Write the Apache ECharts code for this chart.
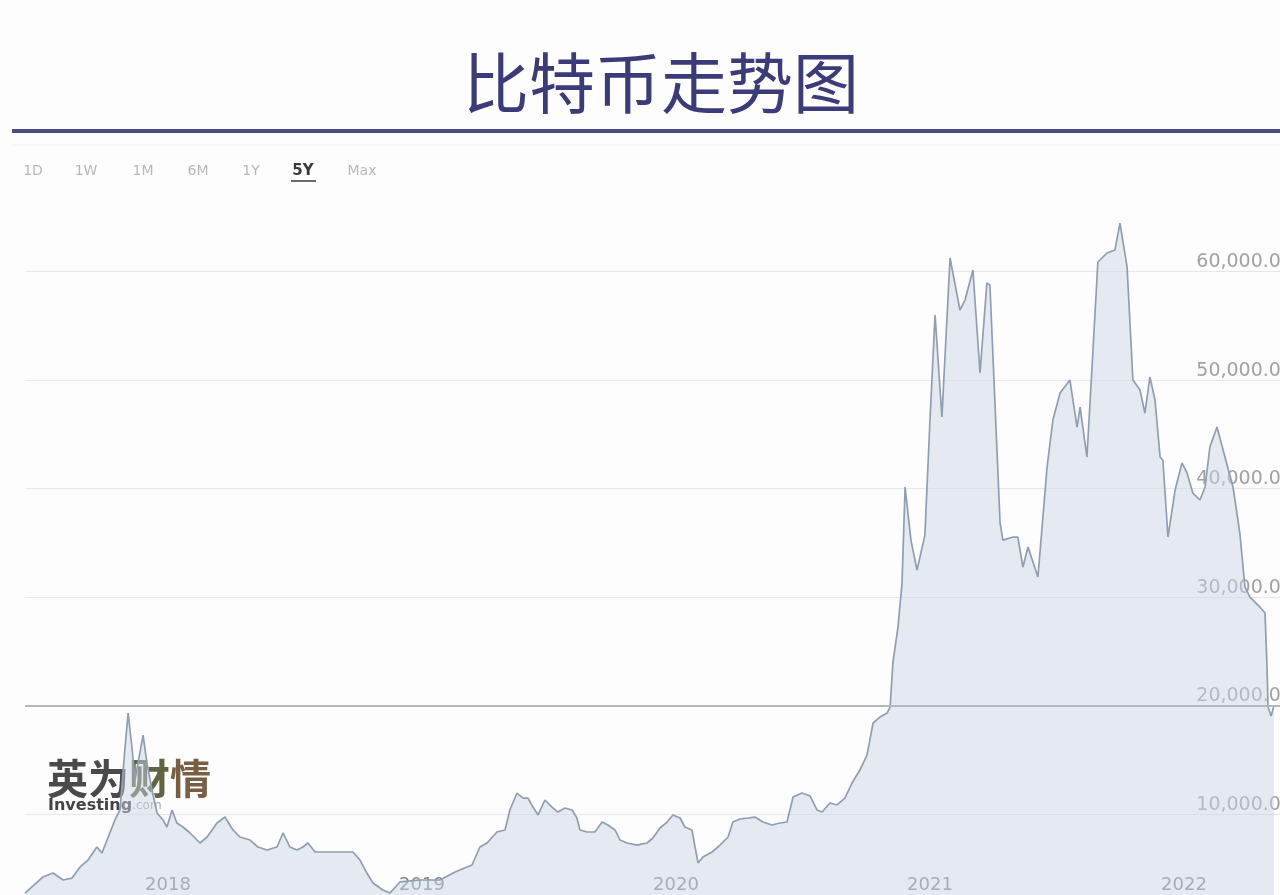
<!DOCTYPE html>
<html>
<head>
<meta charset="utf-8">
<script src="https://cdn.jsdelivr.net/npm/echarts@6/dist/echarts.min.js"></script>
<style>
html,body{margin:0;padding:0;background:#fdfdfd;}
#chart{width:1280px;height:895px;}
</style>
</head>
<body>
<div id="chart"></div>
<script>
// decimal years
const dates = [
2017.437,2017.508,2017.547,2017.587,2017.622,2017.654,2017.685,2017.720,2017.740,2017.760,
2017.791,2017.811,2017.831,2017.843,2017.858,2017.870,2017.882,2017.902,2017.917,2017.937,
2017.957,2017.980,2017.996,2018.016,2018.035,2018.059,2018.087,2018.126,2018.154,2018.193,
2018.224,2018.256,2018.283,2018.323,2018.354,2018.390,2018.429,2018.453,2018.480,2018.508,
2018.531,2018.551,2018.579,2018.610,2018.650,2018.728,2018.756,2018.783,2018.807,2018.846,
2018.874,2018.913,2018.992,2019.071,2019.130,2019.177,2019.197,2019.228,2019.256,2019.295,
2019.327,2019.346,2019.374,2019.398,2019.417,2019.437,2019.457,2019.484,2019.512,2019.535,
2019.563,2019.591,2019.610,2019.622,2019.650,2019.681,2019.709,2019.732,2019.760,2019.780,
2019.807,2019.846,2019.886,2019.909,2019.937,2019.965,2019.988,2020.016,2020.035,2020.063,
2020.075,2020.087,2020.106,2020.142,2020.173,2020.205,2020.224,2020.252,2020.283,2020.311,
2020.343,2020.378,2020.409,2020.437,2020.461,2020.496,2020.528,2020.555,2020.575,2020.606,
2020.634,2020.665,2020.693,2020.724,2020.752,2020.776,2020.803,2020.831,2020.843,2020.854,
2020.874,2020.890,2020.902,2020.925,2020.949,2020.980,2021.000,2021.020,2021.047,2021.079,
2021.118,2021.138,2021.169,2021.197,2021.224,2021.236,2021.276,2021.287,2021.327,2021.346,
2021.366,2021.386,2021.425,2021.461,2021.484,2021.512,2021.551,2021.579,2021.591,2021.618,
2021.638,2021.661,2021.697,2021.728,2021.748,2021.776,2021.799,2021.827,2021.846,2021.866,
2021.886,2021.906,2021.917,2021.937,2021.965,2021.992,2022.012,2022.035,2022.063,2022.083,
2022.102,2022.130,2022.154,2022.193,2022.220,2022.240,2022.260,2022.299,2022.319,2022.327,
2022.331,2022.343,2022.354
];
const prices = [
2760,4240,4600,3960,4140,5160,5800,7000,6450,7640,
9490,10410,16210,19340,16210,13170,14740,17310,14740,12250,
10130,9490,8840,10410,9210,8840,8290,7370,7920,9210,
9760,8570,7920,7640,7000,6720,7000,8290,7000,6720,
7000,7370,6540,6540,6540,6540,5800,4600,3680,3040,
2760,3780,3960,3960,4700,5160,5340,7000,7370,8380,
8570,10410,11970,11510,11510,10680,9950,11330,10680,10220,
10590,10410,9670,8570,8380,8380,9300,9030,8570,7640,
7370,7180,7370,7830,8750,9300,9950,9670,8840,8570,
7000,5530,6080,6540,7180,7920,9300,9580,9670,9760,
9300,9030,9210,9300,11600,11970,11700,10410,10220,11050,
10870,11510,12890,14090,15470,18420,18970,19340,19890,23950,
27260,31310,40160,35270,32510,35730,46330,56000,46600,61250,
56460,57380,60140,50660,58940,58760,36840,35270,35550,35550,
32790,34630,31870,42000,46330,48810,50010,45680,47520,42920,
51210,60880,61710,61980,64470,60420,50010,49090,46970,50290,
48170,42920,42640,35550,39880,42370,41450,39600,38960,40160,
43840,45680,43560,40160,35920,30950,30020,29100,28550,23580,
19890,19060,19990
];
const rangeButtons = ['1D','1W','1M','6M','1Y','5Y','Max'];
const activeRange = '5Y';
const yTicks = [0,10000,20000,30000,40000,50000,60000,70000];

const chart = echarts.init(document.getElementById('chart'));
const seriesData = dates.map((d, i) => [d, prices[i]]);

const btnX = [33, 86, 143, 198, 251, 303, 362];
const buttonGraphics = rangeButtons.map((b, i) => ({
  type: 'text',
  style: {
    x: btnX[i], y: 171, text: b, align: 'center', verticalAlign: 'middle',
    font: (b === activeRange ? 'bold 15px' : '14px') + ' "DejaVu Sans", sans-serif',
    fill: b === activeRange ? '#3a3a3a' : '#b8b8b8'
  }
}));

function fmt(v) {
  return v.toString().replace(/\B(?=(\d{3})+(?!\d))/g, ',') + '.00';
}

chart.setOption({
  backgroundColor: '#fdfdfd',
  animation: false,
  grid: { left: 25, right: -17, top: 163, bottom: -28, containLabel: false, outerBoundsMode: 'none' },
  xAxis: {
    type: 'value',
    min: dates[0],
    max: 2022.445,
    splitLine: { show: false },
    axisLine: { show: false },
    axisTick: { show: false },
    axisLabel: {
      inside: true, margin: 29, color: '#888888',
      fontFamily: 'DejaVu Sans', fontSize: 18,
      formatter: v => Math.abs(v - Math.round(v)) < 1e-6 ? String(Math.round(v)) : ''
    }
  },
  yAxis: {
    type: 'value',
    position: 'right',
    min: yTicks[0], max: yTicks[yTicks.length - 1], interval: 10000,
    axisLine: { show: false },
    axisTick: { show: false },
    splitLine: {
      lineStyle: {
        width: 1,
        color: ['#e8e8e8','#e8e8e8','#e8e8e8','#e8e8e8','#e8e8e8','#e8e8e8','#e8e8e8','rgba(0,0,0,0)']
      }
    },
    axisLabel: {
      inside: true, margin: 4, color: '#a2a2a2',
      fontFamily: 'DejaVu Sans', fontSize: 19, verticalAlign: 'bottom',
      formatter: v => (v === 0 || v === 70000) ? '' : fmt(v)
    }
  },
  series: [{
    type: 'line',
    data: seriesData,
    symbol: 'none',
    lineStyle: { color: '#909eb2', width: 1.7 },
    areaStyle: { color: 'rgb(200,212,230)', opacity: 0.48 },
    markLine: {
      silent: true, symbol: 'none', label: { show: false },
      lineStyle: { color: '#b4b8bd', width: 2, type: 'solid' },
      data: [{ yAxis: 20000 }]
    }
  }],
  graphic: [
    {
      type: 'text',
      style: {
        x: 661, y: 83, text: '比特币走势图', align: 'center', verticalAlign: 'middle',
        font: '66px "Noto Sans CJK SC", sans-serif', fill: '#3b3b7a'
      }
    },
    { type: 'line', shape: { x1: 12, y1: 131, x2: 1280, y2: 131 }, style: { stroke: '#4b4b83', lineWidth: 4 } },
    { type: 'line', shape: { x1: 12, y1: 145, x2: 1280, y2: 145 }, style: { stroke: '#f1f1f1', lineWidth: 1 } },
    ...buttonGraphics,
    { type: 'line', shape: { x1: 291, y1: 181, x2: 316, y2: 181 }, style: { stroke: '#3a3a3a', lineWidth: 1.5 } },
    {
      type: 'text',
      style: {
        x: 47, y: 778, text: '{a|英为}{b|财}{c|情}', verticalAlign: 'middle',
        rich: {
          a: { font: 'bold 41px "Noto Sans CJK SC", sans-serif', fill: '#4a4a4a' },
          b: { font: 'bold 41px "Noto Sans CJK SC", sans-serif', fill: '#5f6540' },
          c: { font: 'bold 41px "Noto Sans CJK SC", sans-serif', fill: '#7a5e44' }
        }
      }
    },
    {
      type: 'text',
      style: {
        x: 48, y: 806, text: '{a|Investing}{b|.com}', verticalAlign: 'middle',
        rich: {
          a: { font: 'bold 16px "DejaVu Sans", sans-serif', fill: '#444' },
          b: { font: '12px "DejaVu Sans", sans-serif', fill: '#aaa' }
        }
      }
    }
  ]
});
</script>
</body>
</html>
